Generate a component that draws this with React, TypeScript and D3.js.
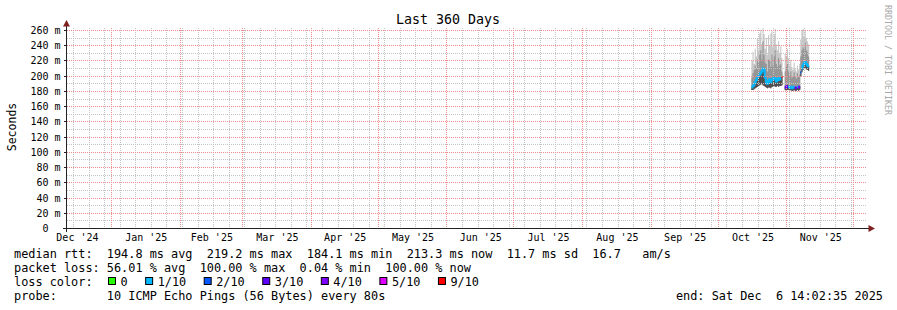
import React from 'react';
import * as d3 from 'd3';

// ---------- data ----------
const startTime = new Date(2024, 11, 11, 14, 2, 35);
const endTime = new Date(2025, 11, 6, 14, 2, 35);

const yMajorTicks = [0, 20, 40, 60, 80, 100, 120, 140, 160, 180, 200, 220, 240, 260];
const yMinorTicks = [10, 30, 50, 70, 90, 110, 130, 150, 170, 190, 210, 230, 250];

// measurements every 12 hours from this start
const dataStart = new Date(2025, 9, 16, 0, 0, 0);
const stepHours = 12;

const rttMedian = [
  185, 187, 189, 192, 195, 198, 200, 202, 204, 206,
  210, 208, 198, 192, 190, 194, 196, 192, 195, 197,
  198, 196, 193, 197, 195, 198, 196, 199, null, null,
  186, 185, 187, 186, 185, 186, 184, 185, 186, 185,
  184, 186, 185, 186, 205, 210, 214, 217, 219, 216,
  214, 213,
];
const rttMin = [
  182, 182, 183, 184, 185, 186, 187, 188, 189, 190,
  188, 187, 186, 185, 184, 185, 185, 184, 186, 186,
  187, 186, 186, 187, 186, 187, 187, 188, null, null,
  182, 181, 182, 182, 181, 182, 181, 181, 182, 181,
  181, 182, 181, 182, 200, 205, 208, 210, 211, 209,
  208, 207,
];
const rttP80 = [
  198, 204, 208, 214, 210, 222, 218, 228, 234, 222,
  246, 228, 218, 216, 206, 222, 220, 212, 228, 214,
  226, 234, 216, 212, 224, 214, 216, 206, null, null,
  206, 212, 216, 206, 200, 206, 198, 200, 205, 199,
  197, 204, 199, 202, 226, 234, 238, 236, 244, 234,
  232, 226,
];
const rttMax = [
  220, 232, 216, 236, 226, 250, 234, 256, 261, 242,
  263, 255, 236, 250, 228, 254, 240, 256, 259, 238,
  255, 262, 242, 234, 246, 230, 240, 224, null, null,
  230, 226, 236, 224, 214, 222, 212, 208, 218, 210,
  206, 214, 209, 216, 248, 260, 262, 252, 261, 250,
  246, 242,
];
// index into lossLabels / lossColors
const lossLevel = [
  1, 1, 1, 1, 1, 1, 1, 1, 1, 1,
  1, 1, 1, 1, 1, 1, 1, 1, 1, 1,
  1, 1, 1, 1, 1, 1, 1, 6, null, null,
  3, 3, 3, 1, 1, 1, 1, 1, 1, 3,
  3, 1, 3, 3, 2, 1, 1, 1, 1, 1,
  1, 1,
];

const lossLabels = ['0', '1/10', '2/10', '3/10', '4/10', '5/10', '9/10'];
const lossColors = ['#26ff00', '#00b8ff', '#0059ff', '#5e00ff', '#7e00ff', '#dd00ff', '#ff0000'];

const titleText = 'Last 360 Days';
const yAxisTitle = 'Seconds';
const watermark = 'RRDTOOL / TOBI OETIKER';
const legendRow1 = 'median rtt:  194.8 ms avg  219.2 ms max  184.1 ms min  213.3 ms now  11.7 ms sd  16.7   am/s';
const legendRow2 = 'packet loss: 56.01 % avg  100.00 % max  0.04 % min  100.00 % now';
const legendRow3Label = 'loss color:';
const legendRow4 = 'probe:       10 ICMP Echo Pings (56 Bytes) every 80s';
const legendEnd = 'end: Sat Dec  6 14:02:35 2025';

// ---------- layout ----------
const W = 897;
const H = 310;
const plotLeft = 67;
const plotRight = 867;
const xRangeLeft = 66;
const xRangeRight = 866;
const plotTop = 28.5;
const plotBottom = 228.5;
const yMaxDomain = 262.6;
const FONT = '"DejaVu Sans Mono", monospace';
const CW = 11.86 * 0.602; // legend char width

const snap = (v: number) => Math.round(v - 0.5) + 0.5;
const pre = (s: string) => s.replace(/ /g, '\u00a0');

export default function App() {
  const x = d3.scaleTime().domain([startTime, endTime]).range([xRangeLeft, xRangeRight]);
  const y = d3.scaleLinear().domain([0, yMaxDomain]).range([plotBottom, plotTop]);

  const stepMs = stepHours * 3600 * 1000;
  type P = { t: Date; med: number | null; lo: number | null; p80: number | null; hi: number | null; loss: number | null };
  const pts: P[] = [];
  rttMedian.forEach((m, i) => {
    const t0 = new Date(dataStart.getTime() + i * stepMs);
    const t1 = new Date(t0.getTime() + stepMs);
    const base = { med: m, lo: rttMin[i], p80: rttP80[i], hi: rttMax[i], loss: lossLevel[i] };
    pts.push({ t: t0, ...base });
    pts.push({ t: t1, ...base });
  });

  const band = (lo: (p: P) => number | null, hi: (p: P) => number | null) =>
    d3
      .area<P>()
      .defined((p) => p.med != null)
      .x((p) => x(p.t))
      .y0((p) => y(lo(p) as number))
      .y1((p) => y(hi(p) as number))(pts) || '';

  const outerPath = band((p) => p.lo, (p) => p.hi);
  const midPath = band((p) => p.lo, (p) => p.p80);
  const corePath = band((p) => p.lo, (p) => p.med);

  const medianPaths = lossColors.map((c, lvl) => ({
    color: c,
    d:
      d3
        .line<P>()
        .defined((p) => p.med != null && p.loss === lvl)
        .x((p) => x(p.t))
        .y((p) => y(p.med as number))(pts) || '',
  }));

  const weeks = d3.timeSunday.range(startTime, endTime);
  const months = d3.timeMonth.range(startTime, endTime);
  const monthLabels = d3.timeMonth
    .range(d3.timeMonth.floor(startTime), endTime)
    .map((m) => {
      const next = d3.timeMonth.offset(m, 1);
      const cx = (x(m) + x(next)) / 2 + 0.5;
      return { cx, label: d3.timeFormat("%b '%y")(m) };
    })
    .filter((d) => d.cx > plotLeft && d.cx < plotRight);

  const minorColor = '#c4c4c4';
  const majorColor = '#ee8e8e';
  const axisColor = '#222';
  const arrowColor = '#801f1f';

  // legend row 3 boxes
  let bx = 108;
  const boxes = lossLabels.map((l, i) => {
    const item = { x: bx, label: l, color: lossColors[i] };
    bx = bx + 12.5 + l.length * CW + 17.5;
    return item;
  });

  const rowBase = [257.7, 271.8, 285.9, 300];
  const vTop = 28;
  const vBottom = 228;

  return (
    <svg
      width={W}
      height={H}
      style={{ position: 'absolute', left: 0, top: 0, background: '#fff' }}
      fontFamily={FONT}
    >
      <rect x={0} y={0} width={W} height={H} fill="#fff" />

      {/* smoke */}
      <path d={outerPath} fill="#c8c8c8" />
      <path d={midPath} fill="#969696" />
      <path d={corePath} fill="#505050" />
      {medianPaths.map((m, i) => (
        <path key={i} d={m.d} fill="none" stroke={m.color} strokeWidth={2} />
      ))}

      {/* grid */}
      <g shapeRendering="crispEdges" strokeWidth={1} strokeDasharray="1,1">
        {yMinorTicks.map((v) => (
          <line key={'hm' + v} x1={plotLeft} x2={plotRight} y1={snap(y(v))} y2={snap(y(v))} stroke={minorColor} />
        ))}
        {weeks.map((w, i) => (
          <line key={'vm' + i} x1={snap(x(w))} x2={snap(x(w))} y1={vTop} y2={vBottom} stroke={minorColor} />
        ))}
        {yMajorTicks.filter((v) => v > 0).map((v) => (
          <line key={'hM' + v} x1={plotLeft} x2={plotRight} y1={snap(y(v))} y2={snap(y(v))} stroke={majorColor} />
        ))}
        {months.map((m, i) => (
          <line key={'vM' + i} x1={snap(x(m))} x2={snap(x(m))} y1={vTop} y2={vBottom} stroke={majorColor} />
        ))}
      </g>

      {/* axes */}
      <g shapeRendering="crispEdges">
        <line x1={63} x2={869} y1={plotBottom} y2={plotBottom} stroke={axisColor} />
        <line x1={66.5} x2={66.5} y1={plotBottom + 3} y2={24} stroke={axisColor} />
        {yMajorTicks.map((v) => (
          <line key={'t' + v} x1={63.5} x2={66.5} y1={snap(y(v))} y2={snap(y(v))} stroke={axisColor} />
        ))}
      </g>
      <path d="M66.5,20 L63,26.5 L70,26.5 Z" fill={arrowColor} />
      <path d="M875,228.5 L868.5,225 L868.5,232 Z" fill={arrowColor} />

      {/* title */}
      <text x={448} y={23.5} fontSize={13.3} textAnchor="middle" fill="#000">
        {titleText}
      </text>

      {/* y ticks */}
      {yMajorTicks.map((v) => (
        <text key={'yl' + v} x={60.5} y={snap(y(v)) + 3.6} fontSize={10} textAnchor="end" fill="#000">
          {pre(v === 0 ? '0  ' : `${v} m`)}
        </text>
      ))}

      {/* x labels */}
      {monthLabels.map((d, i) => (
        <text key={'xl' + i} x={d.cx} y={241} fontSize={10} textAnchor="middle" fill="#000">
          {pre(d.label)}
        </text>
      ))}

      {/* y axis title */}
      <text transform="translate(15.5,127) rotate(-90)" fontSize={11.5} textAnchor="middle" fill="#000">
        {yAxisTitle}
      </text>

      {/* watermark */}
      <text transform="translate(884.5,5) rotate(90)" fontSize={8.3} fill="#a8a8a8">
        {pre(watermark)}
      </text>

      {/* legend */}
      <g fontSize={11.86} fill="#000">
        <text x={14} y={rowBase[0]}>{pre(legendRow1)}</text>
        <text x={14} y={rowBase[1]}>{pre(legendRow2)}</text>
        <text x={14} y={rowBase[2]}>{pre(legendRow3Label)}</text>
        {boxes.map((b, i) => (
          <g key={'lb' + i}>
            <rect x={b.x + 0.5} y={277.5} width={7} height={7} fill={b.color} stroke="#000" strokeWidth={1} />
            <text x={b.x + 12.5} y={rowBase[2]}>{pre(b.label)}</text>
          </g>
        ))}
        <text x={14} y={rowBase[3]}>{pre(legendRow4)}</text>
        <text x={883} y={rowBase[3]} textAnchor="end">{pre(legendEnd)}</text>
      </g>
    </svg>
  );
}
